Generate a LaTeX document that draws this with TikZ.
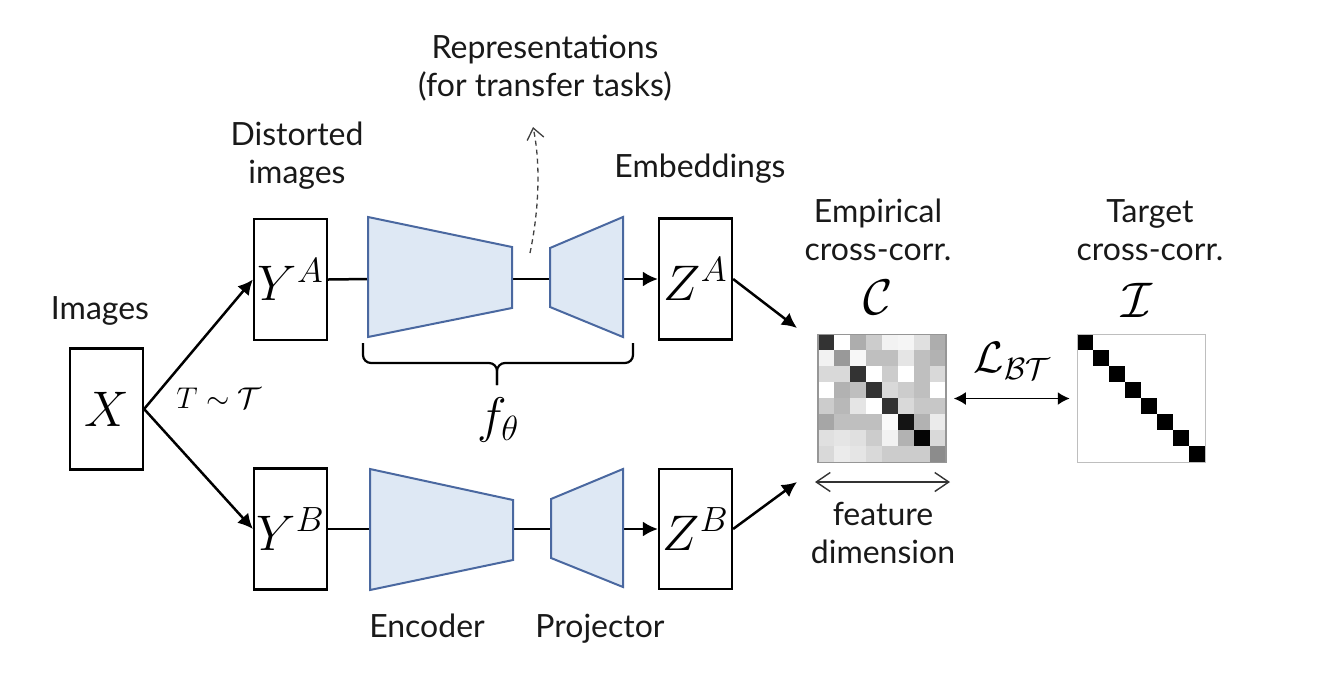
\RequirePackage{fix-cm}
\documentclass[tikz,border=0pt]{standalone}
\usepackage{fontspec}
\setmainfont{Lato}
\usetikzlibrary{arrows.meta}
\definecolor{encfill}{RGB}{222,232,244}
\definecolor{encdraw}{RGB}{74,104,160}
\definecolor{mborder}{RGB}{150,150,150}
\definecolor{iborder}{RGB}{190,190,190}
\begin{document}
\begin{tikzpicture}[x=1pt,y=-1pt,
  lbl/.style={font=\fontsize{32}{38}\selectfont, inner sep=0pt, align=center, text=black!90},
  mth/.style={font=\fontsize{50}{60}\selectfont, inner sep=0pt},
  box/.style={draw, line width=2.2pt, minimum width=73pt, minimum height=121pt, inner sep=0pt, font=\fontsize{50}{60}\selectfont},
  net/.style={draw=encdraw, fill=encfill, line width=2pt, line join=miter},
  conn/.style={line width=2.5pt},
  arr/.style={conn, -{Latex[length=15pt,width=15pt]}},
  thinarr/.style={line width=1.8pt, {Latex[length=12pt,width=13pt]}-{Latex[length=12pt,width=13pt]}},
  barbarr/.style={line width=1.4pt, black!80, {Straight Barb[length=14pt,width=19pt]}-{Straight Barb[length=14pt,width=19pt]}},
]
\useasboundingbox (0,0) rectangle (1324,681);

% boxes
\node[box] (X) at (106.5,409) {$X$};
\node[box] (YA) at (290.5,279.5) {$Y^{A}$};
\node[box] (YB) at (290.5,529) {$Y^{B}$};
\node[box] (ZA) at (695.5,279) {$Z^{A}$};
\node[box, minimum height=120pt] (ZB) at (695.5,529) {$Z^{B}$};

% network coordinates
\coordinate (eAl) at (368,279);
\coordinate (eAr) at (512,279);
\coordinate (pAl) at (550,279);
\coordinate (pAr) at (623,279);
\coordinate (eBl) at (370,529);
\coordinate (eBr) at (513,529);
\coordinate (pBl) at (551,529);
\coordinate (pBr) at (623,529);

% connectors
\draw[arr] (X.east) -- (YA.west);
\draw[arr] (X.east) -- (YB.west);
\draw[conn] (YA.east) -- (eAl);
\draw[conn] (eAr) -- (pAl);
\draw[arr] (pAr) -- (ZA.west);
\draw[conn] (YB.east) -- (eBl);
\draw[conn] (eBr) -- (pBl);
\draw[arr] (pBr) -- (ZB.west);

% encoders and projectors
\draw[net] (368,217) -- (512,247) -- (512,308) -- (368,337) -- cycle;
\draw[net] (550,248) -- (623,217) -- (623,337) -- (550,307) -- cycle;
\draw[net] (370,469) -- (513,500) -- (513,560) -- (370,590) -- cycle;
\draw[net] (551,499) -- (623,469) -- (623,587) -- (551,558) -- cycle;

% brace
\draw[line width=2.2pt, rounded corners=8pt] (363,343) -- (363,363) -- (497,363) -- (497,385);
\draw[line width=2.2pt, rounded corners=8pt] (633,343) -- (633,363) -- (497,363) -- (497,385);

% dashed representation arrow
\coordinate (rs) at (530,253);
\coordinate (rep) at (533,127);
\draw[line width=1.3pt, black!75, dash pattern=on 5pt off 4pt, -{Straight Barb[length=11pt,width=17pt]}]
  (rs) .. controls (540,205) and (540,160) .. (rep);

% empirical cross-correlation matrix
\foreach \row [count=\r from 0] in {{80,0,32,20,5,4,12,32},%
{5,40,3,25,25,10,25,30},%
{15,15,80,0,20,0,25,15},%
{0,30,25,80,15,20,25,0},%
{20,28,10,0,80,15,22,22},%
{35,25,25,25,2,92,30,8},%
{12,10,12,20,5,30,98,15},%
{15,8,10,15,20,20,20,45}}{%
  \foreach \v [count=\c from 0] in \row {%
    \fill[black!\v] ({818+16*\c},{334+16*\r}) rectangle ++(16,16);
  }%
}
\node[draw=mborder, line width=1.5pt, minimum size=128pt, inner sep=0pt] (C) at (882,398.5) {};

% target matrix
\foreach \i in {0,...,7} {
  \fill[black] ({1077+16*\i},{334+16*\i}) rectangle ++(16,16);
}
\node[draw=iborder, line width=1.5pt, minimum size=128pt, inner sep=0pt] (I) at (1141.5,398.5) {};

% Z to C arrows
\coordinate (cA) at (797,328);
\coordinate (cB) at (797,482);
\draw[arr] (ZA.east) -- (cA);
\draw[arr] (ZB.east) -- (cB);

% loss arrow
\draw[thinarr] ([xshift=7pt]C.east) -- ([xshift=-7pt]I.west);

% feature dimension arrow
\coordinate (fd1) at (815,482);
\coordinate (fd2) at (950,482);
\draw[barbarr] (fd1) -- (fd2);

% labels
\node[lbl, anchor=base] (images) at (100,319) {Images};
\node[lbl] (distorted) at (297,156) {Distorted\\images};
\node[lbl] (repr) at (545,68) {Representations\\(for transfer tasks)};
\node[lbl, anchor=base] (emb) at (700,177) {Embeddings};
\node[lbl] (emp) at (878,230) {Empirical\\cross-corr.};
\node[lbl] (tgt) at (1150,230) {Target\\cross-corr.};
\node[lbl] (feat) at (883,533) {feature\\dimension};
\node[lbl, anchor=base] (enc) at (427,637) {Encoder};
\node[lbl, anchor=base] (proj) at (600,637) {Projector};

% math labels
\node[mth] (Cl) at (878,297) {$\mathcal{C}$};
\node[mth] (Il) at (1137,300) {$\mathcal{I}$};
\node[font=\fontsize{44}{50}\selectfont, inner sep=0pt] (L) at (1012,361) {$\mathcal{L}_{\mathcal{B}\mathcal{T}}$};
\node[font=\fontsize{30}{36}\selectfont, inner sep=0pt] (T) at (219,398) {$T\sim\mathcal{T}$};
\node[mth] (f) at (498,420) {$f_\theta$};
\end{tikzpicture}
\end{document}
